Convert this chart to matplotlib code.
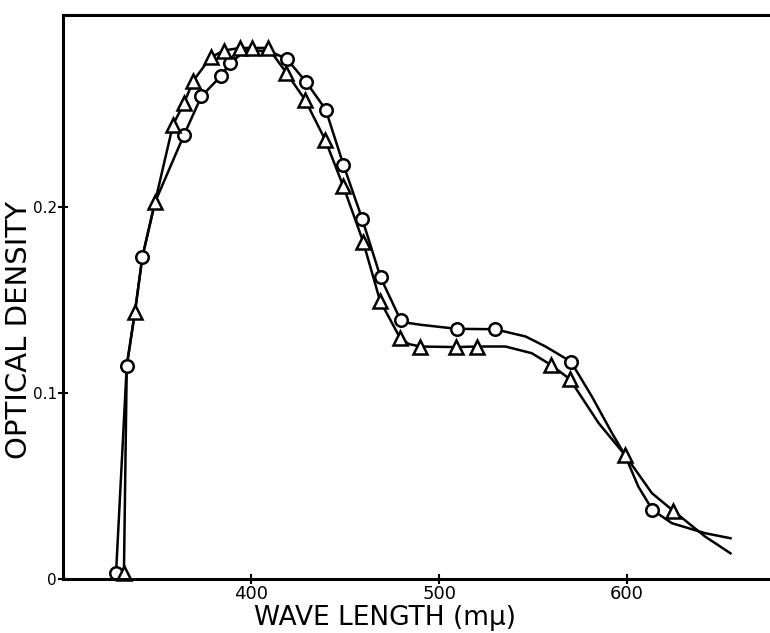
import matplotlib
matplotlib.use("Agg")
import matplotlib.pyplot as plt
import numpy as np

# circles (measured points)
circ_x = [328.2, 333.9, 342.2, 364.4, 373.6, 384.2, 388.8, 419.0, 429.4, 439.7,
          449.1, 459.2, 468.9, 479.5, 509.4, 529.6, 570.1, 613.5]
circ_y = [0.003, 0.1145, 0.173, 0.2387, 0.2593, 0.2704, 0.2772, 0.2794, 0.2669, 0.2522,
          0.2226, 0.1932, 0.162, 0.1392, 0.1344, 0.1342, 0.1168, 0.0371]

# triangles (measured points)
tri_x = [332.4, 338.3, 348.9, 358.5, 364.4, 369.3, 378.6, 385.6, 394.0, 400.7, 409.2,
         418.8, 428.7, 439.4, 449.1, 459.6, 468.6, 479.3, 490.1, 509.1, 520.0,
         559.4, 569.5, 598.8, 624.6]
tri_y = [0.003, 0.1437, 0.2023, 0.244, 0.2557, 0.2677, 0.2803, 0.2839, 0.2853, 0.2853, 0.2853,
         0.2719, 0.2575, 0.2360, 0.2109, 0.1813, 0.1495, 0.1294, 0.1249, 0.1246, 0.1249,
         0.1151, 0.1074, 0.0667, 0.0366]

# where the hand drawn curves pass without a marker of their own
circ_pass_x = [338.3, 348.9, 397.4, 409.8, 484.0, 490.0, 546.0, 556.6, 581.3, 592.0, 598.8,
               606.0, 623.8, 641.5, 655.0]
circ_pass_y = [0.1437, 0.2023, 0.284, 0.2836, 0.1375, 0.1366, 0.1303, 0.1249, 0.098, 0.0783, 0.0667,
               0.0496, 0.030, 0.0246, 0.0219]
tri_pass_x = [333.9, 342.2, 484.0, 535.3, 549.3, 584.9, 613.2, 641.5, 655.0]
tri_pass_y = [0.1145, 0.173, 0.1262, 0.1249, 0.1213, 0.0837, 0.0461, 0.0228, 0.0138]

xticks = [400, 500, 600]
yticks = [0, 0.1, 0.2]
ytick_labels = ["0", "0.1", "0.2"]


def trace(x1, y1, x2, y2):
    x = np.array(x1 + x2)
    y = np.array(y1 + y2)
    order = np.argsort(x)
    return x[order], y[order]


fig = plt.figure(figsize=(7.7, 6.33), dpi=100)
ax = fig.add_axes([63 / 770, 1 - 579 / 633, (770 - 63) / 770, (579 - 15) / 633])

lx, ly = trace(circ_x, circ_y, circ_pass_x, circ_pass_y)
ax.plot(lx, ly, color="black", linewidth=1.8)
lx, ly = trace(tri_x, tri_y, tri_pass_x, tri_pass_y)
ax.plot(lx, ly, color="black", linewidth=1.8)

ax.plot(circ_x, circ_y, linestyle="none", marker="o", markersize=9, markerfacecolor="white",
        markeredgecolor="black", markeredgewidth=1.8, clip_on=False)
ax.plot(tri_x, tri_y, linestyle="none", marker="^", markersize=10, markerfacecolor="white",
        markeredgecolor="black", markeredgewidth=1.8, clip_on=False)

ax.set_xlim(300, 676)
ax.set_ylim(0, 0.303)
ax.spines["right"].set_visible(False)
for s in ["left", "bottom", "top"]:
    ax.spines[s].set_linewidth(2.2)

ax.set_xticks(xticks)
ax.set_yticks(yticks)
ax.set_yticklabels(ytick_labels)
ax.tick_params(direction="inout", length=7, width=1.5, pad=1)
ax.tick_params(axis="x", labelsize=13)
ax.tick_params(axis="y", labelsize=11)

ax.set_xlabel("WAVE LENGTH (m\u03bc)", fontsize=19)
ax.xaxis.set_label_coords((385 - 63) / 707, -(618 - 579) / 564, transform=ax.transAxes)
ax.xaxis.label.set_va("center")
ax.set_ylabel("OPTICAL DENSITY", fontsize=21)
ax.yaxis.set_label_coords(-(63 - 19) / 707, (579 - 330) / 564, transform=ax.transAxes)
ax.yaxis.label.set_va("center")

fig.savefig("out.png", dpi=100)
